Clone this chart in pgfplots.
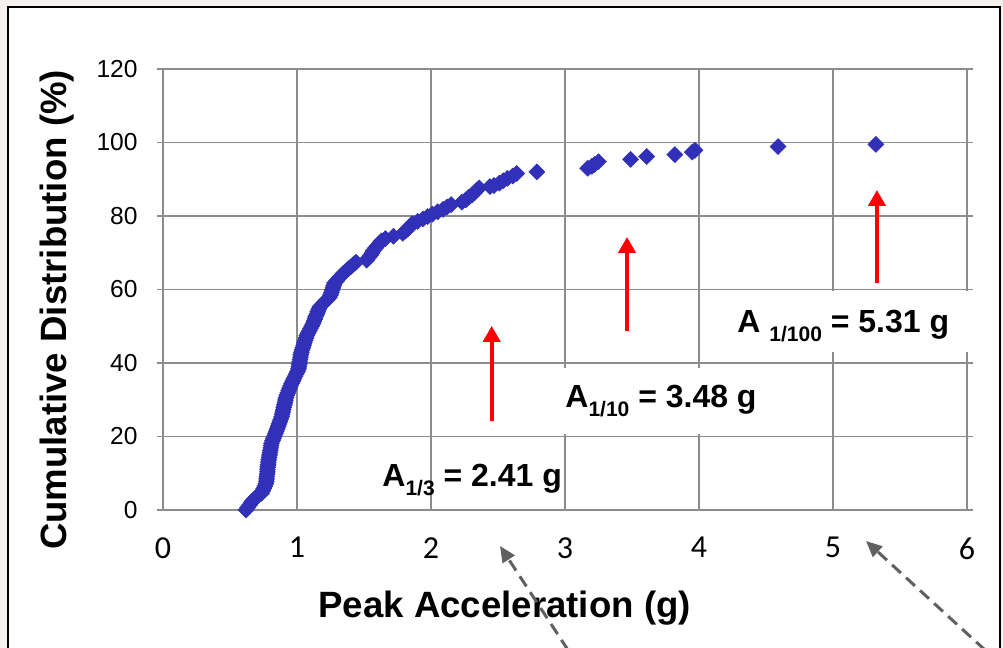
\documentclass[border=0pt]{standalone}
\usepackage{fontspec}
\setmainfont{Liberation Sans}
\newfontfamily\calibri{Carlito}
\usepackage{pgfplots}
\usepackage{pgfplotstable}
\pgfplotsset{compat=1.18}
\usetikzlibrary{arrows.meta}
\definecolor{markblue}{RGB}{48,48,184}
\definecolor{gridgray}{RGB}{140,140,140}
\definecolor{bgbeige}{RGB}{244,241,238}
\definecolor{dashgray}{RGB}{96,96,96}

\pgfplotstableread{
x y
0.620 0.0
0.632 0.65
0.645 1.3
0.657 1.95
0.670 2.6
0.690 3.25
0.710 3.9
0.735 4.55
0.744 5.2
0.752 5.85
0.760 6.5
0.768 7.15
0.771 7.8
0.773 8.45
0.775 9.1
0.777 9.75
0.779 10.4
0.780 11.05
0.782 11.7
0.784 12.35
0.786 13.0
0.789 13.65
0.792 14.3
0.795 14.95
0.798 15.6
0.801 16.25
0.804 16.9
0.807 17.55
0.810 18.2
0.817 18.85
0.824 19.5
0.832 20.15
0.839 20.8
0.846 21.45
0.853 22.1
0.859 22.75
0.866 23.4
0.872 24.05
0.878 24.7
0.885 25.35
0.889 26.0
0.893 26.65
0.897 27.3
0.901 27.95
0.906 28.6
0.910 29.25
0.914 29.9
0.918 30.55
0.924 31.2
0.931 31.85
0.938 32.5
0.945 33.15
0.952 33.8
0.960 34.45
0.968 35.1
0.977 35.75
0.986 36.4
0.995 37.05
1.004 37.7
1.011 38.35
1.014 39.0
1.017 39.65
1.020 40.3
1.023 40.95
1.026 41.6
1.028 42.25
1.033 42.9
1.038 43.55
1.044 44.2
1.050 44.85
1.055 45.5
1.061 46.15
1.067 46.8
1.073 47.45
1.082 48.1
1.092 48.75
1.100 49.4
1.110 50.05
1.119 50.7
1.126 51.35
1.133 52.0
1.140 52.65
1.148 53.3
1.155 53.95
1.162 54.6
1.170 55.25
1.187 55.9
1.205 56.55
1.223 57.2
1.241 57.85
1.250 58.5
1.256 59.15
1.262 59.8
1.268 60.45
1.274 61.1
1.280 61.75
1.297 62.4
1.312 63.05
1.328 63.7
1.344 64.35
1.364 65.0
1.384 65.65
1.405 66.3
1.425 66.95
1.440 67.4
1.520 68.0
1.535 68.65
1.548 69.3
1.560 69.95
1.570 70.6
1.585 71.25
1.600 71.9
1.615 72.55
1.630 73.2
1.660 73.85
1.720 74.5
1.790 75.3
1.810 75.95
1.830 76.6
1.845 77.25
1.860 77.9
1.900 78.55
1.940 79.2
1.975 79.85
2.010 80.5
2.050 81.15
2.090 81.8
2.120 82.45
2.150 83.1
2.230 83.75
2.260 84.4
2.280 85.05
2.305 85.7
2.325 86.35
2.340 87.0
2.360 87.65
2.440 88.0
2.470 88.3
2.510 88.95
2.540 89.6
2.570 90.25
2.610 90.9
2.640 91.55
2.790 92.0
3.170 93.0
3.200 93.5
3.220 94.0
3.250 94.8
3.490 95.4
3.610 96.2
3.820 96.7
3.950 97.4
3.970 97.9
4.590 98.9
5.320 99.5
}\datatable

\begin{document}
\begin{tikzpicture}[x=1pt,y=1pt]
\useasboundingbox (0,0) rectangle (501.5,324);
\fill[bgbeige] (0,0) rectangle (501.5,324);
\fill[white] (4,-5) rectangle (500,320.5);
\draw[black, line width=1pt] (4,-5) rectangle (500,320.5);
\coordinate (axisorigin) at (81.5,69);
\begin{axis}[
  at={(axisorigin)}, anchor=south west,
  width=402pt, height=220.5pt, scale only axis,
  xmin=0, xmax=6, ymin=0, ymax=120,
  xtick={0,1,2,3,4,5,6}, ytick={0,20,40,60,80,100,120},
  grid=major,
  major grid style={gridgray, line width=0.9pt},
  axis line style={gridgray, line width=0.9pt},
  xtick style={draw=none},
  ytick style={gridgray, line width=0.9pt},
  tick align=outside, major tick length=3pt,
  /pgf/number format/assume math mode=true,
  yticklabel style={font=\fontsize{12.3}{14}\selectfont, anchor=east, inner sep=0pt, xshift=-9.5pt},
  xticklabel style={font=\calibri\fontsize{16}{19}\selectfont, anchor=north, inner sep=0pt, yshift=-10.5pt},
  xlabel={Peak Acceleration (g)},
  xlabel style={font=\bfseries\fontsize{18.3}{22}\selectfont, at={(axis description cs:0.425,-0.2222)}, anchor=center},
  ylabel={Cumulative Distribution (\%)},
  ylabel style={font=\bfseries\fontsize{18.3}{22}\selectfont, at={(axis description cs:-0.1318,0.4535)}, anchor=center},
  clip=false,
]
\addplot[only marks, mark=square*, mark size=2.85pt,
  mark options={rotate=45, fill=markblue, draw=markblue, line width=0.2pt}]
  table[x=x, y=y] {\datatable};
\draw[red, line width=2.2pt, -{Triangle[width=8.5pt,length=8pt]}] (axis cs:2.453,24.2) -- (axis cs:2.453,50.1);
\draw[red, line width=2.2pt, -{Triangle[width=8.5pt,length=8pt]}] (axis cs:3.463,48.7) -- (axis cs:3.463,74.3);
\draw[red, line width=2.2pt, -{Triangle[width=8.5pt,length=8pt]}] (axis cs:5.328,61.8) -- (axis cs:5.328,87.1);
\end{axis}
% white label boxes
\fill[white] (274,107) rectangle (387.5,140);
\fill[white] (357.5,148) rectangle (492.5,178.5);
% labels
\node[anchor=base west, inner sep=0pt, font=\bfseries\fontsize{16}{19}\selectfont] at (191,80.5)
  {A\raisebox{-4.5pt}{\fontsize{10.5}{12}\selectfont 1/3} = 2.41 g};
\node[anchor=base west, inner sep=0pt, font=\bfseries\fontsize{16}{19}\selectfont] at (282.5,120)
  {A\raisebox{-4.5pt}{\fontsize{10.5}{12}\selectfont 1/10} = 3.48 g};
\node[anchor=base west, inner sep=0pt, font=\bfseries\fontsize{16}{19}\selectfont] at (368.5,157.5)
  {A \raisebox{-4.5pt}{\fontsize{10.5}{12}\selectfont 1/100} = 5.31 g};
% dashed arrows
\draw[dashgray, line width=1.5pt, dash pattern=on 6pt off 3.5pt, -{Triangle[width=7pt,length=8pt]}] (284,-1) -- (250,51);
\draw[dashgray, line width=1.5pt, dash pattern=on 6pt off 3.5pt, -{Triangle[width=7pt,length=8pt]}] (492.5,-1) -- (433,53.5);
\end{tikzpicture}
\end{document}
